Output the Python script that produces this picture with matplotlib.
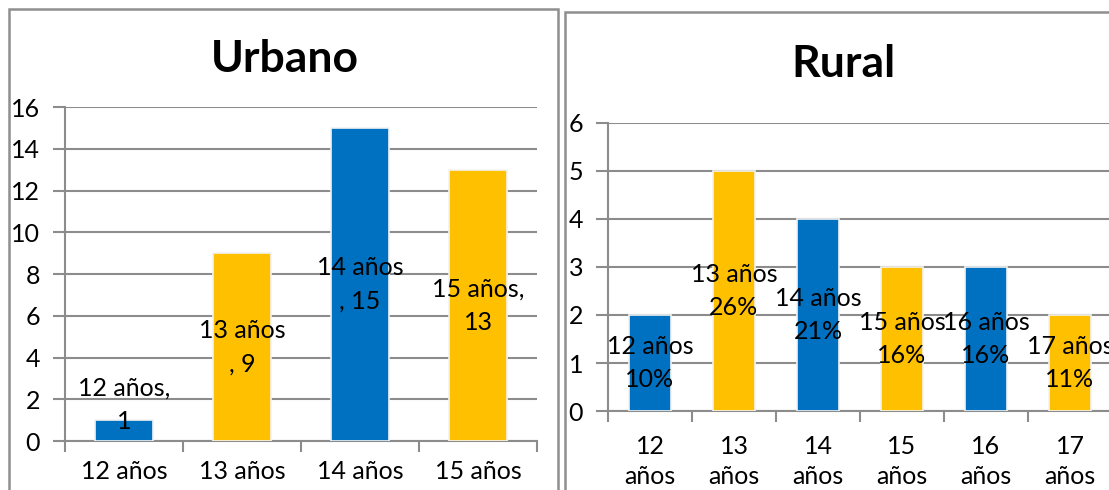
import matplotlib
matplotlib.use("Agg")
import matplotlib.pyplot as plt
from matplotlib.patches import Rectangle
import numpy as np

plt.rcParams['font.family'] = ['Lato', 'DejaVu Sans']

# ---- data ----
urb_categories = ["12 años", "13 años", "14 años", "15 años"]
urb_values = [1, 9, 15, 13]
urb_labels = ["12 años,\n1", "13 años\n, 9", "14 años\n, 15", "15 años,\n13"]

rur_categories = ["12\naños", "13\naños", "14\naños", "15\naños", "16\naños", "17\naños"]
rur_values = [2, 5, 4, 3, 3, 2]
rur_labels = ["12 años\n10%", "13 años\n26%", "14 años\n21%", "15 años\n16%", "16 años\n16%", "17 años\n11%"]

BLUE = "#0070C0"
GOLD = "#FFC000"
GRID = "#8C8C8C"
FS = 18

W, H = 1109, 490
fig = plt.figure(figsize=(W / 100, H / 100), dpi=100)

# panel borders
fig.patches.append(Rectangle((9 / W, -0.05), (558 - 9) / W, (H - 9) / H + 0.05,
                             transform=fig.transFigure, fill=False, ec="#8F8F8F", lw=1.8))
fig.patches.append(Rectangle((565 / W, -0.05), 0.6, (H - 12) / H + 0.05,
                             transform=fig.transFigure, fill=False, ec="#8F8F8F", lw=1.8))


def style_axes(ax, ymax, step, xpad):
    ax.set_ylim(0, ymax)
    ax.set_yticks(np.arange(0, ymax + 0.01, step))
    ax.yaxis.grid(True, color=GRID, lw=1.5)
    ax.set_axisbelow(True)
    for s in ["top", "right"]:
        ax.spines[s].set_visible(False)
    for s in ["left", "bottom"]:
        ax.spines[s].set_color(GRID)
        ax.spines[s].set_linewidth(1.5)
    ax.tick_params(axis="y", length=9, width=1.5, color=GRID, labelsize=FS, pad=9)
    ax.tick_params(axis="x", which="major", length=0, labelsize=FS, pad=xpad)
    ax.tick_params(axis="x", which="minor", length=8, width=1.5, color=GRID)


def draw(ax, cats, vals, labels, colors, ymax, step, title, title_pos, label_min, xpad, xls):
    n = len(cats)
    x = np.arange(n)
    ax.bar(x, vals, width=0.49, color=colors, edgecolor="#F2F2F2", linewidth=1.2, zorder=3)
    ax.set_xlim(-0.5, n - 0.5)
    ax.set_xticks(x)
    ax.set_xticklabels(cats, linespacing=xls)
    ax.set_xticks(np.arange(-0.5, n, 1.0), minor=True)
    style_axes(ax, ymax, step, xpad)
    for xi, v, lab in zip(x, vals, labels):
        ax.text(xi, max(v / 2, label_min), lab, ha="center", va="center",
                fontsize=FS, color="black", linespacing=1.55, zorder=4)
    fig.text(title_pos[0], title_pos[1], title, ha="center", va="center",
             fontsize=32, fontweight="bold")


axL = fig.add_axes([65 / W, (H - 441) / H, (537 - 65) / W, (441 - 107) / H])
colsL = [BLUE if i % 2 == 0 else GOLD for i in range(len(urb_values))]
draw(axL, urb_categories, urb_values, urb_labels, colsL, 16, 2, "Urbano",
     (285 / W, (H - 59) / H), 1.75, 14, 1.55)

axR = fig.add_axes([608 / W, (H - 411) / H, (1112 - 608) / W, (411 - 123) / H])
colsR = [BLUE if i % 2 == 0 else GOLD for i in range(len(rur_values))]
draw(axR, rur_categories, rur_values, rur_labels, colsR, 6, 1, "Rural",
     (843 / W, (H - 64) / H), 0, 17, 1.4)

fig.savefig("out.png", dpi=100)
